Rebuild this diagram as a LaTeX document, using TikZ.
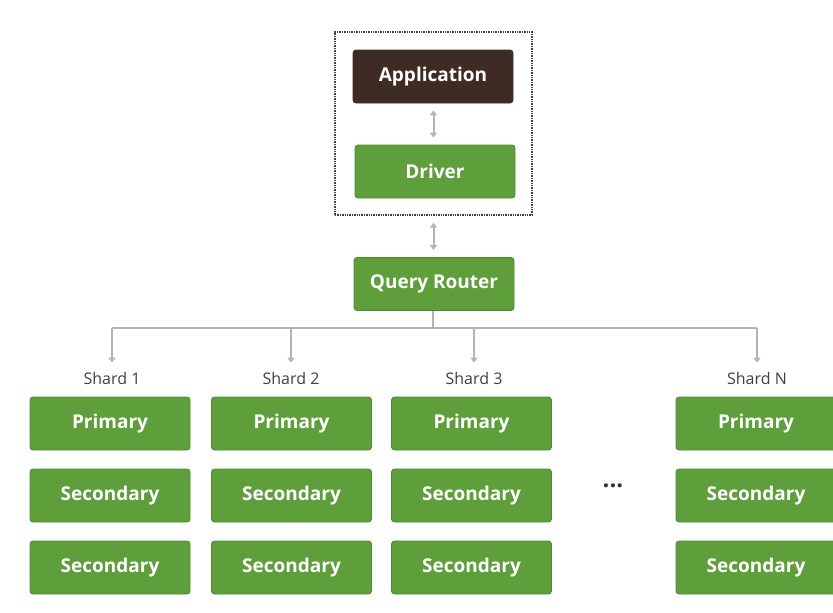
\documentclass[tikz,border=0pt]{standalone}
\usepackage{fontspec}
\setmainfont{Open Sans}
\usetikzlibrary{arrows.meta}
\definecolor{leaf}{HTML}{5E9E3B}
\definecolor{leafedge}{HTML}{4E8A2F}
\definecolor{bark}{HTML}{3E2C24}
\definecolor{wire}{HTML}{B4B4B4}
\tikzset{
  box/.style={draw=leafedge, fill=leaf, rounded corners=3pt, minimum width=160pt,
    minimum height=53pt, text=white, font=\fontsize{19}{21}\selectfont\bfseries,
    line width=0.8pt, inner sep=0pt},
  appbox/.style={box, draw=bark, fill=bark},
  shardlbl/.style={font=\fontsize{16}{18}\selectfont, text=black!75, inner sep=1pt},
  link/.style={draw=wire, line width=2pt, -{Triangle[length=5pt,width=7pt]}},
  twoway/.style={draw=wire, line width=2pt, {Triangle[length=5pt,width=7pt]}-{Triangle[length=5pt,width=7pt]}, shorten <=7pt, shorten >=7pt},
}
\begin{document}
\begin{tikzpicture}[x=1pt,y=-1pt]
  \useasboundingbox (0,0) rectangle (833,613);

  % client side
  \node[appbox] (app) at (433,76.5) {Application};
  \node[box] (drv) at (435,171.5) {Driver};
  \node[draw=black!75, densely dotted, line width=1.4pt, minimum width=197pt,
        minimum height=183pt, inner sep=0pt] (client) at (433.5,123.5) {};
  \draw[twoway] (app.south -| client) -- (drv.north -| client);

  % router
  \node[box] (qr) at (434,284) {Query Router};
  \draw[twoway] (client.south) -- (qr.north -| client);

  % fan-out to the shards
  \coordinate (bus) at (433,328);
  \coordinate (hb1) at (112,328);
  \coordinate (hb2) at (291,328);
  \coordinate (hb3) at (474,328);
  \coordinate (hb4) at (757,328);
  \draw[draw=wire, line width=2pt] (qr.south -| bus) -- (bus);
  \draw[draw=wire, line width=2pt] (hb1) -- (hb4);

  \node[shardlbl] (sh1) at (112,378) {Shard 1};
  \node[shardlbl] (sh2) at (291,378) {Shard 2};
  \node[shardlbl] (sh3) at (474,378) {Shard 3};
  \node[shardlbl] (sh4) at (757,378) {Shard N};
  \foreach \i in {1,...,4}
    \draw[link, shorten >=8pt] (hb\i) -- (sh\i.north);

  % replica sets
  \node[box] (p1) at (110,423.5) {Primary};
  \node[box] (a1) at (110,495.5) {Secondary};
  \node[box] (b1) at (110,567.5) {Secondary};

  \node[box] (p2) at (291.5,423.5) {Primary};
  \node[box] (a2) at (291.5,495.5) {Secondary};
  \node[box] (b2) at (291.5,567.5) {Secondary};

  \node[box] (p3) at (471.5,423.5) {Primary};
  \node[box] (a3) at (471.5,495.5) {Secondary};
  \node[box] (b3) at (471.5,567.5) {Secondary};

  \node[box] (p4) at (756,423.5) {Primary};
  \node[box] (a4) at (756,495.5) {Secondary};
  \node[box] (b4) at (756,567.5) {Secondary};

  \node[font=\fontsize{24}{26}\selectfont\bfseries, text=black!80] (dots) at (613,486) {...};
\end{tikzpicture}
\end{document}
